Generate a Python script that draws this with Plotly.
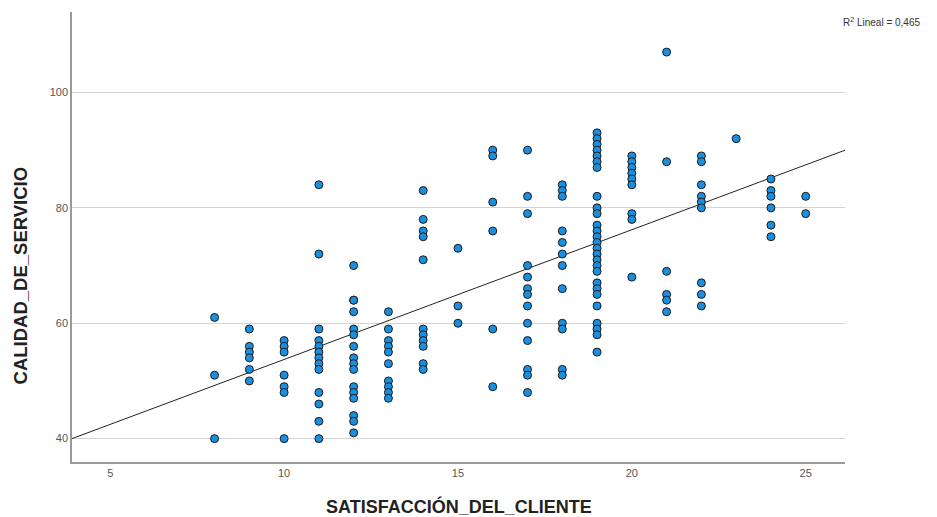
import plotly.graph_objects as go

# Data: x value -> list of y values
satisfaccion_levels = [8, 9, 10, 11, 12, 13, 14, 15, 16, 17, 18, 19, 20, 21, 22, 23, 24, 25]
calidad_by_level = [
    [61, 51, 40],
    [59, 56, 55, 54, 52, 50],
    [57, 56, 55, 51, 49, 48, 40],
    [84, 72, 59, 57, 56, 55, 54, 53, 52, 48, 46, 43, 40],
    [70, 64, 64, 62, 59, 58, 56, 54, 53, 52, 49, 48, 47, 44, 43, 41],
    [62, 59, 57, 56, 55, 53, 50, 49, 48, 47],
    [83, 78, 76, 75, 71, 59, 58, 57, 56, 53, 52],
    [73, 63, 60],
    [90, 89, 81, 76, 59, 49],
    [90, 82, 79, 70, 68, 66, 65, 63, 60, 57, 52, 51, 48],
    [84, 83, 82, 76, 74, 72, 70, 66, 60, 59, 52, 51],
    [93, 92, 91, 90, 89, 88, 87, 82, 80, 79, 77, 76, 75, 74, 73, 72, 71, 70, 69, 67, 66, 65, 63, 60, 59, 58, 55],
    [89, 88, 87, 86, 85, 84, 79, 78, 68],
    [107, 88, 69, 65, 64, 62],
    [89, 88, 84, 82, 81, 80, 67, 65, 63],
    [92],
    [85, 83, 82, 80, 77, 75],
    [82, 79],
]
# Linear fit line (SPSS "R2 Lineal")
fit_intercept = 31.23
fit_slope = 2.249

x_ticks = [5, 10, 15, 20, 25]
y_ticks = [40, 60, 80, 100]
x_title = "SATISFACCIÓN_DEL_CLIENTE"
y_title = "CALIDAD_DE_SERVICIO"
r2_label = "R<sup>2</sup> Lineal = 0,465"

x_vals = [lvl for lvl, ys in zip(satisfaccion_levels, calidad_by_level) for _ in ys]
y_vals = [y for ys in calidad_by_level for y in ys]

x_range = [3.9, 26.13]
y_range = [35.95, 113.95]

fit_x = list(x_range)
fit_y = [fit_intercept + fit_slope * v for v in fit_x]

fig = go.Figure()
fig.add_trace(go.Scatter(
    x=fit_x, y=fit_y, mode="lines",
    line=dict(color="#222222", width=1), hoverinfo="skip", showlegend=False,
))
fig.add_trace(go.Scatter(
    x=x_vals, y=y_vals, mode="markers",
    marker=dict(size=8, color="#1A8FE0", line=dict(color="#1b1b1b", width=1)),
    showlegend=False,
))

font_family = "Liberation Sans, Arial, sans-serif"
fig.update_layout(
    width=937, height=517,
    margin=dict(l=72, r=92, t=12, b=55),
    paper_bgcolor="white", plot_bgcolor="white",
    font=dict(family=font_family, size=11, color="#555555"),
    xaxis=dict(
        range=x_range, tickvals=x_ticks, showgrid=False, zeroline=False,
        showline=True, linecolor="#9a9a9a", linewidth=1.5, ticks="",
        tickfont=dict(size=11, color="#555555"),
    ),
    yaxis=dict(
        range=y_range, tickvals=y_ticks, showgrid=True, gridcolor="#d4d4d4",
        gridwidth=1.2, zeroline=False, showline=True, linecolor="#9a9a9a",
        linewidth=1.5, ticks="", tickfont=dict(size=11, color="#555555"),
    ),
    annotations=[
        dict(text="<b>" + x_title + "</b>", xref="paper", yref="paper", x=0.5, y=-0.098,
             xanchor="center", yanchor="middle", showarrow=False,
             font=dict(size=18, color="#222222", family=font_family)),
        dict(text="<b>" + y_title + "</b>", xref="paper", yref="paper", x=-0.067, y=0.415,
             xanchor="center", yanchor="middle", textangle=-90, showarrow=False,
             font=dict(size=18.5, color="#222222", family=font_family)),
        dict(text=r2_label, xref="paper", yref="paper", x=0.995, y=0.978,
             xanchor="left", yanchor="middle", showarrow=False,
             font=dict(size=10, color="#333333", family=font_family)),
    ],
)

fig.write_html("out.html", config={"displayModeBar": False})

# Remove the browser's default body margin so the figure sits at the page origin
with open("out.html", "r", encoding="utf-8") as f:
    html = f.read()
html = html.replace("<head>", "<head><style>html,body{margin:0;padding:0;overflow:hidden;}</style>", 1)
with open("out.html", "w", encoding="utf-8") as f:
    f.write(html)
